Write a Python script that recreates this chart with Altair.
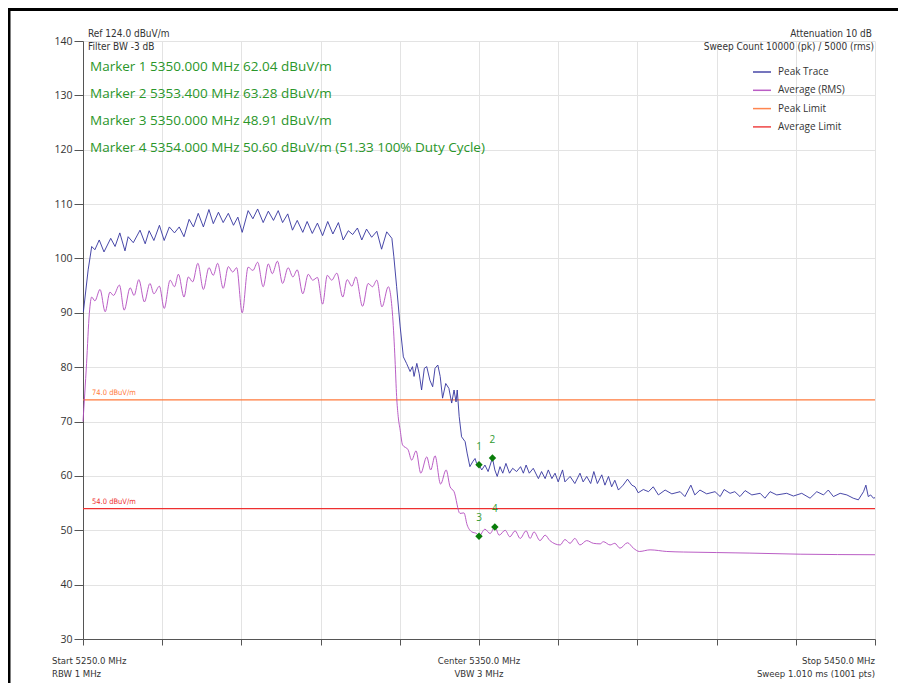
import altair as alt
import pandas as pd

# ---------------- data ----------------
peak_freq = [5250.1, 5251.3, 5252.2, 5253.0, 5254.1, 5255.3, 5257.0, 5258.1, 5259.3, 5260.6,
             5261.4, 5262.7, 5264.4, 5265.7, 5266.7, 5267.9, 5269.3, 5270.5, 5271.8, 5273.1,
             5274.3, 5275.5, 5276.8, 5277.9, 5279.1, 5280.4, 5281.8, 5282.9, 5284.2, 5285.4,
             5286.7, 5288.0, 5289.1, 5290.2, 5291.7, 5292.9, 5294.1, 5295.5, 5296.8, 5298.1,
             5299.3, 5300.4, 5301.7, 5302.9, 5304.1, 5305.5, 5306.6, 5307.9, 5309.2, 5310.5,
             5311.8, 5313.1, 5314.5, 5315.7, 5317.0, 5318.1, 5319.3, 5320.4, 5321.6, 5322.9,
             5324.2, 5325.4, 5326.7, 5328.0, 5328.5, 5329.2, 5330.1, 5330.9, 5331.7, 5332.6,
             5333.2, 5333.6, 5334.3, 5334.9, 5335.5, 5336.2, 5336.8, 5337.6, 5338.3, 5338.9,
             5339.6, 5340.2, 5340.8, 5341.6, 5342.4, 5343.1, 5343.7, 5344.2, 5344.5, 5345.0,
             5345.6, 5346.5, 5347.0, 5347.7, 5348.4, 5349.0, 5349.4, 5350.0, 5350.7, 5351.5,
             5352.3, 5353.4, 5354.0, 5354.6, 5355.3, 5356.0, 5356.8, 5357.7, 5358.5, 5359.5,
             5360.5, 5361.2, 5361.9, 5362.7, 5363.7, 5365.0, 5365.8, 5366.7, 5367.5, 5368.4,
             5369.2, 5370.0, 5371.1, 5371.7, 5373.0, 5374.2, 5375.5, 5376.3, 5377.2, 5378.2,
             5379.0, 5379.9, 5381.0, 5381.8, 5382.7, 5383.5, 5384.3, 5385.2, 5386.4, 5387.5,
             5388.6, 5389.4, 5390.2, 5391.5, 5392.8, 5394.0, 5395.3, 5397.0, 5398.7, 5400.8,
             5402.0, 5403.5, 5404.5, 5405.8, 5407.5, 5409.6, 5410.9, 5411.9, 5413.4, 5414.6,
             5415.9, 5417.2, 5418.9, 5421.0, 5422.2, 5423.5, 5425.2, 5427.7, 5429.4, 5431.5,
             5433.6, 5435.3, 5437.0, 5438.2, 5439.5, 5441.2, 5442.9, 5444.5, 5445.8, 5447.1,
             5447.7, 5448.3, 5448.9, 5449.6, 5450.0]
peak_level = [90.2, 97.9, 102.2, 101.6, 103.4, 101.2, 103.7, 102.2, 104.7, 101.4,
              104.0, 102.9, 105.2, 102.7, 105.1, 103.3, 106.1, 103.3, 105.8, 104.7,
              105.8, 104.0, 107.2, 105.8, 108.3, 105.8, 109.0, 106.4, 108.5, 106.6,
              108.3, 106.1, 107.6, 104.8, 108.8, 107.3, 109.1, 106.6, 108.7, 107.0,
              108.8, 106.6, 108.2, 105.2, 107.0, 104.8, 106.8, 104.6, 106.5, 104.2,
              106.8, 104.5, 106.6, 103.4, 105.1, 104.4, 105.6, 103.4, 105.4, 103.9,
              105.0, 101.7, 104.9, 103.7, 100.3, 94.8, 87.4, 81.9, 80.7, 79.2,
              80.1, 78.3, 80.7, 78.8, 75.8, 79.8, 80.1, 77.6, 76.4, 79.8,
              80.4, 78.3, 74.3, 77.0, 76.1, 73.4, 75.8, 73.6, 75.8, 70.9,
              67.2, 66.3, 64.2, 61.7, 62.6, 63.2, 62.3, 62.0, 61.1, 62.0,
              60.8, 63.3, 61.1, 59.9, 61.7, 60.5, 62.3, 60.5, 61.4, 60.8,
              61.7, 60.5, 62.0, 60.5, 61.4, 59.5, 60.8, 59.5, 61.1, 59.5,
              60.5, 58.9, 61.1, 58.9, 59.9, 58.6, 60.5, 58.9, 59.9, 58.6,
              60.8, 58.6, 60.2, 58.3, 59.9, 58.0, 59.2, 57.4, 58.3, 59.4,
              58.3, 58.0, 56.9, 57.5, 57.1, 58.0, 56.5, 57.4, 56.7, 57.1,
              56.2, 58.3, 56.5, 57.4, 56.7, 57.1, 56.2, 57.5, 56.8, 57.1,
              56.2, 57.3, 56.5, 56.8, 55.9, 57.1, 56.5, 56.8, 56.3, 56.8,
              55.9, 57.1, 56.5, 57.4, 56.2, 56.8, 56.5, 55.9, 55.6, 57.1,
              58.3, 56.2, 56.5, 55.9, 56.0]

avg_freq = [5250.0, 5250.9, 5251.6, 5252.2, 5253.0, 5254.3, 5255.6, 5256.8, 5257.7, 5259.2,
            5260.4, 5261.9, 5262.9, 5264.1, 5265.5, 5266.9, 5267.9, 5269.3, 5270.5, 5272.0,
            5273.1, 5274.1, 5275.5, 5276.6, 5277.7, 5279.0, 5280.4, 5281.8, 5282.9, 5284.0,
            5285.4, 5286.7, 5287.8, 5288.8, 5290.2, 5291.7, 5292.9, 5294.1, 5295.5, 5296.8,
            5297.8, 5299.1, 5300.4, 5301.8, 5303.0, 5304.1, 5305.5, 5306.9, 5308.0, 5309.2,
            5310.5, 5311.7, 5312.8, 5314.1, 5315.6, 5316.7, 5317.9, 5318.9, 5320.6, 5322.0,
            5323.1, 5324.2, 5325.5, 5327.1, 5328.2, 5328.8, 5329.2, 5329.6, 5330.1, 5330.7,
            5332.1, 5333.0, 5334.1, 5335.3, 5336.8, 5337.8, 5338.9, 5340.3, 5341.7, 5342.7,
            5343.7, 5345.2, 5346.2, 5347.0, 5348.2, 5349.4, 5350.0, 5351.5, 5352.8, 5354.0,
            5355.1, 5356.6, 5357.8, 5359.1, 5360.4, 5361.9, 5362.9, 5363.9, 5365.4, 5366.7,
            5367.9, 5370.5, 5371.7, 5373.0, 5374.2, 5375.5, 5377.2, 5378.9, 5380.6, 5381.4,
            5383.1, 5384.3, 5385.6, 5387.5, 5389.0, 5390.5, 5393.2, 5397.4, 5401.6, 5410.0,
            5418.4, 5431.1, 5450.0]
avg_level = [70.0, 80.7, 89.9, 92.9, 92.2, 94.3, 90.2, 93.8, 93.2, 95.1,
             90.5, 94.6, 93.2, 96.1, 92.0, 95.4, 93.5, 94.9, 90.8, 96.0,
             94.8, 97.1, 92.9, 96.6, 95.7, 99.1, 94.3, 98.3, 96.9, 99.1,
             94.5, 98.5, 97.5, 98.3, 90.0, 98.4, 97.8, 99.3, 94.8, 99.0,
             97.2, 99.5, 95.4, 98.3, 96.6, 97.9, 93.5, 97.1, 96.0, 96.5,
             91.6, 96.9, 96.0, 97.3, 92.9, 96.1, 94.9, 96.6, 91.2, 95.4,
             94.8, 96.0, 91.1, 94.8, 89.3, 81.3, 74.6, 70.9, 68.4, 65.7,
             64.8, 62.9, 64.6, 60.5, 63.5, 61.1, 63.7, 58.5, 61.1, 58.0,
             57.1, 53.1, 53.2, 51.0, 49.7, 49.4, 48.9, 50.2, 49.4, 50.6,
             49.1, 50.0, 48.8, 49.9, 48.5, 49.9, 48.5, 49.7, 48.1, 49.1,
             48.1, 47.3, 48.3, 47.6, 48.5, 47.3, 48.1, 47.6, 47.5, 47.9,
             47.3, 47.6, 46.7, 47.7, 46.7, 46.1, 46.4, 46.1, 46.0, 45.9,
             45.8, 45.6, 45.5]

series_names = ["Peak Trace", "Average (RMS)", "Peak Limit", "Average Limit"]
series_colors = ["#34349e", "#b34cbf", "#ff7a3c", "#ee3030"]

limit_levels = [74.0, 54.0]
limit_labels = ["74.0 dBuV/m", "54.0 dBuV/m"]

marker_freq = [5350.0, 5353.4, 5350.0, 5354.0]
marker_level = [62.04, 63.28, 48.91, 50.60]
marker_ids = ["1", "2", "3", "4"]
marker_readouts = [
    "Marker 1 5350.000 MHz 62.04 dBuV/m",
    "Marker 2 5353.400 MHz 63.28 dBuV/m",
    "Marker 3 5350.000 MHz 48.91 dBuV/m",
    "Marker 4 5354.000 MHz 50.60 dBuV/m (51.33 100% Duty Cycle)",
]

header_left = ["Ref 124.0 dBuV/m", "Filter BW -3 dB"]
header_right = ["Attenuation 10 dB", "Sweep Count 10000 (pk) / 5000 (rms)"]
footer_left = ["Start 5250.0 MHz", "RBW 1 MHz"]
footer_center = ["Center 5350.0 MHz", "VBW 3 MHz"]
footer_right = ["Stop 5450.0 MHz", "Sweep 1.010 ms (1001 pts)"]

y_ticks = list(range(30, 141, 10))
x_ticks = list(range(5250, 5451, 20))

# ---------------- tables ----------------
peak_df = pd.DataFrame({"freq": peak_freq, "level": peak_level, "series": "Peak Trace"})
avg_df = pd.DataFrame({"freq": avg_freq, "level": avg_level, "series": "Average (RMS)"})
limit_df = pd.DataFrame({"level": limit_levels, "series": series_names[2:], "label": limit_labels})
marker_df = pd.DataFrame({"freq": marker_freq, "level": marker_level, "id": marker_ids})

W, H = 792, 598
NARROW = "Liberation Sans Narrow, DejaVu Sans Condensed, Liberation Sans"
MAIN = "Open Sans"

xscale = alt.Scale(domain=[5250, 5450], nice=False, zero=False)
yscale = alt.Scale(domain=[30, 140], nice=False, zero=False)
color_scale = alt.Scale(domain=series_names, range=series_colors)

X = alt.X("freq:Q", scale=xscale, title="",
          axis=alt.Axis(values=x_ticks, labels=False, tickSize=6, grid=True))
Y = alt.Y("level:Q", scale=yscale, title="",
          axis=alt.Axis(values=y_ticks, tickSize=9, labelPadding=2, grid=True))

legend = alt.Legend(title=None, orient="none", legendX=669, legendY=21, symbolType="stroke",
                    symbolSize=324, symbolStrokeWidth=1.5, labelOffset=6, rowPadding=3.3,
                    padding=0, labelFont=MAIN, labelFontSize=10, labelColor="#333333")
color = alt.Color("series:N", scale=color_scale, sort=series_names, legend=legend)

peak_line = alt.Chart(peak_df).mark_line(strokeWidth=1, interpolate="linear", opacity=0.9).encode(
    x=X, y=Y, color=color)
avg_line = alt.Chart(avg_df).mark_line(strokeWidth=1, interpolate="monotone", opacity=0.9).encode(
    x=X, y=Y, color=color)

limits = alt.Chart(limit_df).mark_rule(strokeWidth=1.3).encode(
    y=alt.Y("level:Q", scale=yscale), color=color)

limit_text = alt.Chart(limit_df).mark_text(align="left", baseline="bottom", dy=-3, font=NARROW,
                                           fontSize=7.5).encode(
    x=alt.value(9), y=alt.Y("level:Q", scale=yscale), text="label:N",
    color=alt.Color("series:N", scale=color_scale, sort=series_names, legend=None),
)

markers = alt.Chart(marker_df).mark_point(shape="diamond", filled=True, size=55, opacity=1,
                                          color="#0a7d0a").encode(
    x=alt.X("freq:Q", scale=xscale), y=alt.Y("level:Q", scale=yscale))

marker_text = alt.Chart(marker_df).mark_text(dy=-18, font=MAIN, fontSize=10,
                                             color="#2f9a2f").encode(
    x=alt.X("freq:Q", scale=xscale), y=alt.Y("level:Q", scale=yscale), text="id:N")


def label(text, x, y, align="left", size=10, font=NARROW, color="#333333"):
    return alt.Chart(pd.DataFrame({"t": [text]})).mark_text(
        align=align, baseline="middle", font=font, fontSize=size, color=color
    ).encode(x=alt.value(x), y=alt.value(y), text="t:N")


texts = []
texts.append(label(header_left[0], 5, -7))
texts.append(label(header_left[1], 5, 6))
texts.append(label(header_right[0], 789, -7, align="right"))
texts.append(label(header_right[1], 791, 6, align="right"))
for i, t in enumerate(marker_readouts):
    texts.append(label(t, 7, 26 + 27 * i, size=13.5, font=MAIN, color="#2a962a"))
texts.append(label(footer_left[0], -31, 620, size=9.5))
texts.append(label(footer_left[1], -31, 633, size=9.5))
texts.append(label(footer_center[0], 396, 620, align="center", size=9.5))
texts.append(label(footer_center[1], 396, 633, align="center", size=9.5))
texts.append(label(footer_right[0], 792, 620, align="right", size=9.5))
texts.append(label(footer_right[1], 792, 633, align="right", size=9.5))

frame_df = pd.DataFrame({"k": [0]})
frame_top = alt.Chart(frame_df).mark_rule(color="black", strokeWidth=3).encode(
    x=alt.value(-75), x2=alt.value(820), y=alt.value(-31.5))
frame_left = alt.Chart(frame_df).mark_rule(color="black", strokeWidth=3).encode(
    x=alt.value(-74), y=alt.value(-33), y2=alt.value(660))

chart = alt.layer(limits, peak_line, avg_line, limit_text, markers, marker_text, frame_top,
                  frame_left, *texts).properties(
    width=W, height=H,
    padding={"left": 75, "top": 33, "right": 23, "bottom": 44},
    autosize=alt.AutoSizeParams(type="none"),
).configure_view(strokeWidth=0).configure_axis(
    gridColor="#e3e3e3", gridWidth=1, domainColor="#555555", tickColor="#555555",
    labelFont=MAIN, labelFontSize=10.5, labelColor="#333333",
)

chart.save("out.html", embed_options={"renderer": "svg", "actions": False})
